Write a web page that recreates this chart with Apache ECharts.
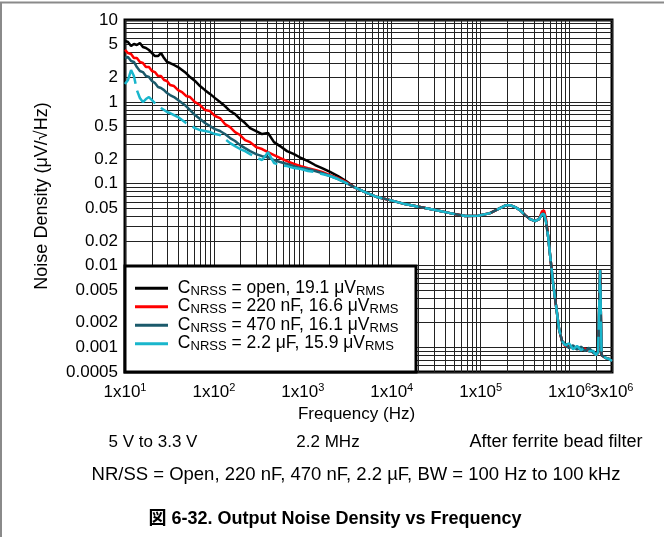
<!DOCTYPE html>
<html><head><meta charset="utf-8">
<script src="https://cdn.jsdelivr.net/npm/echarts@6/dist/echarts.min.js"></script>
<style>html,body{margin:0;padding:0;background:#fff}#c{width:664px;height:537px}</style>
</head><body><div id="c"></div>
<script>
// Frequency (Hz)
const freq = [10,10.8,11.7,12.6,13.6,14.7,15.9,17.2,18.6,20.1,
  21.7,23.5,25.4,27.5,29.7,32.1,35.6,39.5,43.8,48.6,
  53.9,61.3,69.8,79.4,90.4,103,117,133,152,173,
  197,224,255,298,348,406,474,554,664,796,
  954,1144,1372,1644,2023,2489,3062,
  3767,5008,6834,9570,14110,20810,30700,45270,66760,93500,
  127600,156900,188200,214200,243800,277500,315800,359500,409200,453800,
  490600,516700,544200,573100,603600,652400,705100,762100,823700,
  890300,987200,1095000,1214000,1347000,1494000,1657000,1838000,1987000,2093000,
  2203000,2290000,2382000,2574000,2782000,3000000];

// Noise density (uV/rtHz)
const openNoise = [5.54,5.38,4.81,5.09,4.95,5.23,4.68,4.55,4.30,3.95,
  3.63,3.63,3.95,3.43,3.07,2.98,2.82,2.66,2.45,2.25,
  2.01,1.80,1.56,1.39,1.25,1.11,0.994,0.889,0.772,0.709,
  0.616,0.551,0.478,0.440,0.404,0.416,0.322,0.288,0.250,0.230,
  0.206,0.189,0.169,0.155,0.139,0.124,0.108,
  0.091,0.079,0.0686,0.063,0.0563,0.0518,0.0476,0.0437,0.0402,0.0405,
  0.0437,0.0489,0.054,0.0547,0.0518,0.0476,0.0413,0.0369,0.0349,0.0369,
  0.044,0.0445,0.035,0.0228,0.0134,0.0061,0.00319,0.00167,0.00119,
  0.00110,0.00104,0.00099,0.00100,0.00096,0.00094,0.00092,0.00089,0.00085,0.00084,
  0.0085,0.0008,0.00078,0.00074,0.00072,0.00068];

const c220Noise = [4.30,3.95,3.84,3.43,3.43,3.07,2.98,2.66,2.66,2.38,
  2.31,2.07,2.07,1.85,1.80,1.605,1.56,1.39,1.318,1.18,
  1.145,0.994,0.914,0.794,0.772,0.671,0.634,0.535,0.492,0.427,
  0.393,0.341,0.322,0.280,0.265,0.243,0.224,0.206,0.189,0.174,
  0.164,0.155,0.147,0.139,0.127,0.117,0.105,
  0.091,0.079,0.0686,0.063,0.0563,0.0518,0.0476,0.0437,0.0402,0.0405,
  0.0437,0.0489,0.054,0.0547,0.0518,0.0476,0.0413,0.0369,0.0349,0.0369,
  0.0462,0.0470,0.037,0.0228,0.0134,0.0061,0.00319,0.00167,0.00119,
  0.00104,0.00102,0.00100,0.00097,0.00094,0.00096,0.00090,0.00088,0.00080,0.00086,
  0.0088,0.0008,0.00078,0.00074,0.00072,0.00068];

const c470Noise = [3.43,3.53,3.15,3.07,2.66,2.38,2.31,2.07,2.01,1.80,
  1.697,1.52,1.475,1.39,1.28,1.21,1.145,1.05,0.967,0.889,
  0.794,0.690,0.616,0.551,0.506,0.465,0.440,0.404,0.361,0.332,
  0.296,0.272,0.250,0.230,0.217,0.211,0.194,0.184,0.174,0.164,
  0.155,0.151,0.143,0.135,0.124,0.114,0.102,
  0.091,0.079,0.0686,0.063,0.0563,0.0518,0.0476,0.0437,0.0402,0.0405,
  0.0437,0.0489,0.054,0.0547,0.0518,0.0476,0.0413,0.0369,0.0349,0.0369,
  0.0425,0.0425,0.034,0.0228,0.0134,0.0061,0.00319,0.00167,0.00119,
  0.00108,0.00098,0.00106,0.00094,0.00102,0.00090,0.00099,0.00086,0.00083,0.00088,
  0.0088,0.0008,0.00078,0.00074,0.00072,0.00068];

const c2u2Noise = [1.651,1.847,2.448,2.068,1.394,1.113,0.994,1.082,1.145,1.052,
  0.967,0.889,0.840,0.794,0.751,0.730,0.690,0.652,0.599,0.551,
  0.520,0.478,0.452,0.440,0.427,0.404,0.393,0.351,0.313,0.288,
  0.265,0.250,0.230,0.211,0.194,0.243,0.179,0.169,0.164,0.155,
  0.151,0.143,0.139,0.131,0.124,0.114,0.102,
  0.091,0.079,0.0686,0.063,0.0563,0.0518,0.0476,0.0437,0.0402,0.0405,
  0.0437,0.0489,0.054,0.0547,0.0518,0.0476,0.0413,0.0369,0.0349,0.0369,
  0.0425,0.0425,0.034,0.0228,0.0134,0.0061,0.00319,0.00167,0.00119,
  0.00106,0.00112,0.00095,0.00104,0.00092,0.00100,0.00089,0.00091,0.00080,0.00087,
  0.0088,0.0008,0.00078,0.00074,0.00072,0.00068];

const capLabels = ['open', '220 nF', '470 nF', '2.2 μF'];
const rmsValues = ['19.1', '16.6', '16.1', '15.9'];
const seriesColors = ['#000000', '#ff0000', '#1b5a6b', '#19b6cc'];

const xLabelValues = [10, 100, 1000, 10000, 100000, 1000000];
const xLabelMant = ['1', '1', '1', '1', '1', '1'];
const xLabelExp = ['1', '2', '3', '4', '5', '6'];
const xEndLabelValue = 3000000;
const xEndLabelMant = '3';
const xEndLabelExp = '6';
const yLabelValues = [0.0005, 0.001, 0.002, 0.005, 0.01, 0.02, 0.05, 0.1, 0.2, 0.5, 1, 2, 5, 10];
const yLabelTexts = ['0.0005', '0.001', '0.002', '0.005', '0.01', '0.02', '0.05', '0.1', '0.2', '0.5', '1', '2', '5', '10'];

// grid line positions (1..9 per decade)
const xTickValues = [];
for (let d = 1; d <= 6; d++) for (let m = 1; m <= 9; m++) { const v = m * Math.pow(10, d); if (v <= 3000000) xTickValues.push(v); }
const yTickValues = [];
for (let d = -4; d <= 1; d++) for (let m = 1; m <= 9; m++) { const v = +(m * Math.pow(10, d)).toPrecision(3); if (v >= 0.0005 && v <= 10) yTickValues.push(v); }

function findIdx(arr, v) {
  for (let i = 0; i < arr.length; i++) if (Math.abs(arr[i] - v) / arr[i] < 1e-6) return i;
  return -1;
}

const FONT = 'Liberation Sans, Arial, sans-serif';
const noiseSets = [openNoise, c220Noise, c470Noise, c2u2Noise];
const names = capLabels.map((c, i) => 'CNRSS = ' + c + ', ' + rmsValues[i] + ' μVRMS');

function txt(text, x, y, size, weight) {
  return { type: 'text', z: 3, x: x, y: y,
    style: { text: text, x: 0, y: 0, align: 'center', verticalAlign: 'middle', font: (weight || 'normal') + ' ' + size + 'px ' + FONT + ', Noto Sans CJK JP', fill: '#000' } };
}

const supRich = {
  b: { fontSize: 17, fontFamily: FONT, color: '#000', verticalAlign: 'bottom', lineHeight: 19 },
  s: { fontSize: 11, fontFamily: FONT, color: '#000', verticalAlign: 'top', lineHeight: 12 }
};

const chart = echarts.init(document.getElementById('c'), null, { renderer: 'canvas' });
chart.setOption({
  animation: false,
  backgroundColor: '#fff',
  textStyle: { fontFamily: FONT },
  grid: { left: 125, right: 52, top: 20, bottom: 165, show: true, borderColor: '#000', borderWidth: 3, backgroundColor: 'transparent' },
  xAxis: [{
    type: 'log', logBase: 10, min: 10, max: 3000000,
    name: 'Frequency (Hz)', nameLocation: 'middle', nameGap: 32,
    nameTextStyle: { fontSize: 17, color: '#000', fontFamily: FONT, padding: [0, 24, 0, 0] },
    axisLine: { show: false },
    axisTick: { show: false, customValues: xTickValues },
    splitLine: { show: true, lineStyle: { color: '#222', width: 1 } },
    axisLabel: {
      customValues: xLabelValues, margin: 10, color: '#000', fontSize: 17, fontFamily: FONT,
      hideOverlap: false, showMinLabel: true, showMaxLabel: true,
      formatter: function (v) {
        const i = findIdx(xLabelValues, v);
        if (i < 0) return '';
        return '{b|' + xLabelMant[i] + 'x10}{s|' + xLabelExp[i] + '}';
      },
      rich: supRich
    }
  }, {
    type: 'log', logBase: 10, min: 10, max: 3000000, position: 'bottom', gridIndex: 0,
    axisLine: { show: false }, axisTick: { show: false }, splitLine: { show: false },
    axisLabel: {
      customValues: [xEndLabelValue], margin: 10, color: '#000', fontSize: 17, fontFamily: FONT,
      hideOverlap: false, showMinLabel: true, showMaxLabel: true,
      formatter: function () { return '{b|' + xEndLabelMant + 'x10}{s|' + xEndLabelExp + '}'; },
      rich: supRich
    }
  }],
  yAxis: {
    type: 'log', logBase: 10, min: 0.0005, max: 10,
    name: 'Noise Density (μV/√Hz)', nameLocation: 'middle', nameGap: 74, nameRotate: 90,
    nameTextStyle: { fontSize: 18, color: '#000', fontFamily: FONT },
    axisLine: { show: false },
    axisTick: { show: false, customValues: yTickValues },
    splitLine: { show: true, lineStyle: { color: '#222', width: 1 } },
    axisLabel: {
      customValues: yLabelValues, margin: 7, color: '#000', fontSize: 17, fontFamily: FONT,
      hideOverlap: false, showMinLabel: true, showMaxLabel: true,
      formatter: function (v) { const i = findIdx(yLabelValues, v); return i < 0 ? '' : yLabelTexts[i]; }
    }
  },
  legend: {
    orient: 'vertical', left: 135, top: 279, icon: 'rect', itemWidth: 33, itemHeight: 3, itemGap: 0,
    padding: 0,
    data: names,
    formatter: function (name) {
      const i = names.indexOf(name);
      return '{m| C}{s|NRSS}{m| = ' + capLabels[i] + ', ' + rmsValues[i] + ' μV}{s|RMS}';
    },
    textStyle: {
      color: '#000', fontFamily: FONT,
      rich: {
        m: { fontSize: 17.5, fontFamily: FONT, color: '#000', lineHeight: 18.5, verticalAlign: 'top' },
        s: { fontSize: 13, fontFamily: FONT, color: '#000', lineHeight: 18.5, verticalAlign: 'bottom' }
      }
    }
  },
  graphic: [
    { type: 'rect', z: 3, shape: { x: 125, y: 266, width: 291, height: 106 }, style: { fill: '#fff', stroke: '#000', lineWidth: 3 } },
    { type: 'line', z: 3, shape: { x1: 0, y1: 2.5, x2: 664, y2: 2.5 }, style: { stroke: '#8a8a8a', lineWidth: 2 } },
    { type: 'line', z: 3, shape: { x1: 1, y1: 2, x2: 1, y2: 537 }, style: { stroke: '#8a8a8a', lineWidth: 2 } },
    txt('5 V to 3.3 V', 153, 442, 17),
    txt('2.2 MHz', 328, 442, 17),
    txt('After ferrite bead filter', 556, 442, 18),
    txt('NR/SS = Open, 220 nF, 470 nF, 2.2 µF, BW = 100 Hz to 100 kHz', 356, 475, 18.5),
    txt('図 6-32. Output Noise Density vs Frequency', 335, 519, 18, 'bold')
  ],
  series: names.map((n, k) => ({
    name: n, type: 'line', showSymbol: false, symbol: 'none', z: 2 + k * 0.1, xAxisIndex: 0,
    data: freq.map((f, i) => [f, noiseSets[k][i]]),
    lineStyle: { color: seriesColors[k], width: 2.5, type: k === 3 ? [30, 7] : 'solid' },
    itemStyle: { color: seriesColors[k] }
  }))
});
</script></body></html>
